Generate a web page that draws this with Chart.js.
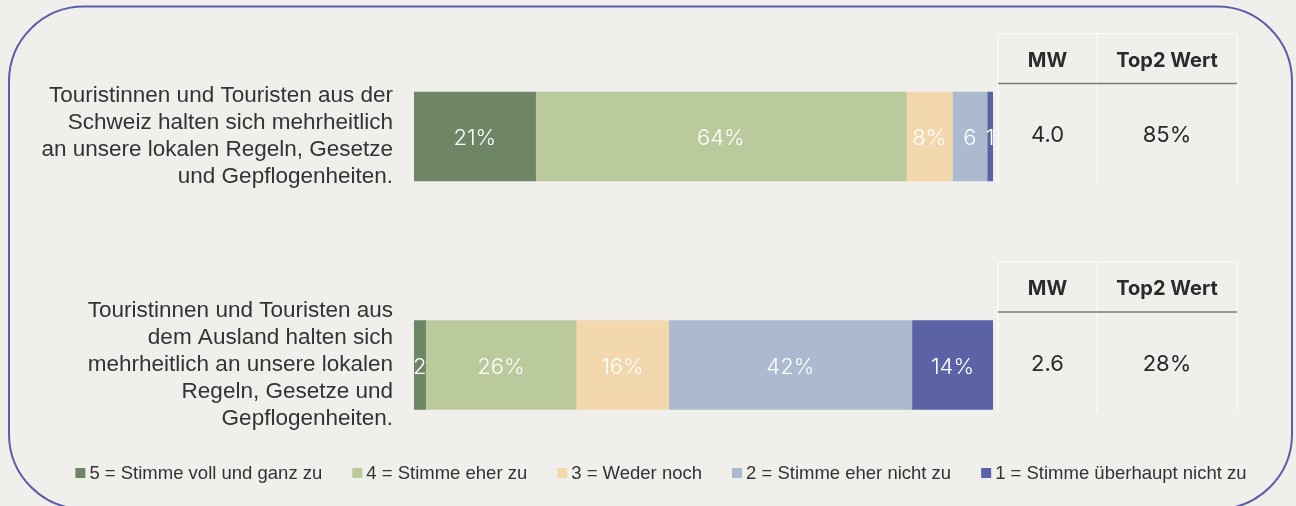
<!DOCTYPE html>
<html>
<head>
<meta charset="utf-8">
<script src="https://cdn.jsdelivr.net/npm/chart.js@4/dist/chart.umd.min.js"></script>
<style>
  html, body { margin: 0; padding: 0; background: #f0efeb; }
  canvas { display: block; }
</style>
</head>
<body>
<canvas id="chart" width="1296" height="506"></canvas>
<script>
// Statements (multi-line category labels)
const categories = [
  ["Touristinnen und Touristen aus der", "Schweiz halten sich mehrheitlich", "an unsere lokalen Regeln, Gesetze", "und Gepflogenheiten."],
  ["Touristinnen und Touristen aus", "dem Ausland halten sich", "mehrheitlich an unsere lokalen", "Regeln, Gesetze und", "Gepflogenheiten."]
];

// Answer scale
const seriesLabels = [
  "5 = Stimme voll und ganz zu",
  "4 = Stimme eher zu",
  "3 = Weder noch",
  "2 = Stimme eher nicht zu",
  "1 = Stimme überhaupt nicht zu"
];

// Shares in percent, one value per statement
const stimmeVoll      = [21, 2];
const stimmeEher      = [64, 26];
const wederNoch       = [8, 16];
const eherNicht       = [6, 42];
const ueberhauptNicht = [1, 14];

// Summary table beside each bar
const tableHeaders = ["MW", "Top2 Wert"];
const mittelwert   = ["4.0", "2.6"];
const top2Wert     = ["85%", "28%"];

const seriesColors = ["#6e8566", "#bbca9c", "#f3d7ad", "#abbacf", "#5b62a5"];
const seriesValues = [stimmeVoll, stimmeEher, wederNoch, eherNicht, ueberhauptNicht];

const SANS = '"Liberation Sans", Arial, sans-serif';
const GROTESK = 'Inter, "Open Sans", sans-serif';

// Background and rounded frame
const framePlugin = {
  id: 'frame',
  beforeDraw(chart) {
    const ctx = chart.ctx;
    ctx.save();
    ctx.fillStyle = '#f0efeb';
    ctx.fillRect(0, 0, chart.width, chart.height);
    const x0 = 9, y0 = 6.5, x1 = 1292, y1 = 509, r = 75;
    ctx.beginPath();
    ctx.moveTo(x0 + r, y0);
    ctx.lineTo(x1 - r, y0);
    ctx.arcTo(x1, y0, x1, y0 + r, r);
    ctx.lineTo(x1, y1 - r);
    ctx.arcTo(x1, y1, x1 - r, y1, r);
    ctx.lineTo(x0 + r, y1);
    ctx.arcTo(x0, y1, x0, y1 - r, r);
    ctx.lineTo(x0, y0 + r);
    ctx.arcTo(x0, y0, x0 + r, y0, r);
    ctx.closePath();
    ctx.lineWidth = 2;
    ctx.strokeStyle = '#5a5fa8';
    ctx.stroke();
    ctx.restore();
  }
};

// White value labels inside the segments, clipped to each segment
const segmentLabelPlugin = {
  id: 'segmentLabels',
  afterDatasetsDraw(chart) {
    const ctx = chart.ctx;
    ctx.save();
    ctx.font = '300 22px ' + GROTESK;
    ctx.fillStyle = '#ffffff';
    ctx.textAlign = 'center';
    ctx.textBaseline = 'middle';
    chart.data.datasets.forEach((ds, di) => {
      const meta = chart.getDatasetMeta(di);
      meta.data.forEach((bar, i) => {
        const v = ds.data[i];
        const left = Math.min(bar.base, bar.x);
        const right = Math.max(bar.base, bar.x);
        const w = right - left;
        let txt = v + '%';
        if (ctx.measureText(txt).width + 6 > w) txt = String(v);
        const cx = (left + right) / 2;
        ctx.save();
        ctx.beginPath();
        ctx.rect(left - 2, bar.y - bar.height / 2, w + 2, bar.height);
        ctx.clip();
        ctx.fillText(txt, cx, bar.y + 2);
        ctx.restore();
      });
    });
    ctx.restore();
  }
};

// MW / Top2 table next to each bar
const tablePlugin = {
  id: 'summaryTable',
  afterDraw(chart) {
    const ctx = chart.ctx;
    const yScale = chart.scales.y;
    const xl = 998, xm = 1097, xr = 1237;
    ctx.save();
    categories.forEach((_, i) => {
      const c = yScale.getPixelForValue(i);
      const top = c - 103, head = c - 53, bottom = c + 47;
      ctx.strokeStyle = '#fbfbf9';
      ctx.lineWidth = 1.2;
      ctx.beginPath();
      ctx.moveTo(xl, top); ctx.lineTo(xr, top);
      ctx.moveTo(xl, top); ctx.lineTo(xl, bottom);
      ctx.moveTo(xm, top); ctx.lineTo(xm, bottom);
      ctx.moveTo(xr, top); ctx.lineTo(xr, bottom);
      ctx.stroke();
      ctx.strokeStyle = '#7b7b73';
      ctx.lineWidth = 1.5;
      ctx.beginPath();
      ctx.moveTo(xl, head); ctx.lineTo(xr, head);
      ctx.stroke();

      ctx.fillStyle = '#2b2b2b';
      ctx.textAlign = 'center';
      ctx.textBaseline = 'middle';
      ctx.font = '700 20px ' + GROTESK;
      ctx.fillText(tableHeaders[0], (xl + xm) / 2, c - 76);
      ctx.fillText(tableHeaders[1], (xm + xr) / 2, c - 76);
      ctx.font = '400 22px ' + GROTESK;
      ctx.fillText(mittelwert[i], (xl + xm) / 2, c - 1);
      ctx.fillText(top2Wert[i], (xm + xr) / 2, c - 1);
    });
    ctx.restore();
  }
};

// Legend row along the bottom
const legendRowPlugin = {
  id: 'legendRow',
  afterDraw(chart) {
    const ctx = chart.ctx;
    ctx.save();
    ctx.font = '18.5px ' + SANS;
    ctx.textBaseline = 'middle';
    ctx.textAlign = 'left';
    const box = 10, gapText = 4, gapItem = 30, y = 473;
    const items = chart.data.datasets.map(ds => ({
      label: ds.label, color: ds.backgroundColor,
      w: box + gapText + ctx.measureText(ds.label).width
    }));
    const total = items.reduce((s, it) => s + it.w, 0) + gapItem * (items.length - 1);
    let x = 661 - total / 2;
    items.forEach(it => {
      ctx.fillStyle = it.color;
      ctx.fillRect(x, y - box / 2, box, box);
      ctx.fillStyle = '#333333';
      ctx.fillText(it.label, x + box + gapText, y + 1);
      x += it.w + gapItem;
    });
    ctx.restore();
  }
};

new Chart(document.getElementById('chart'), {
  type: 'bar',
  data: {
    labels: categories,
    datasets: seriesLabels.map((label, k) => ({
      label,
      data: seriesValues[k],
      backgroundColor: seriesColors[k],
      borderWidth: 0,
      barThickness: 89
    }))
  },
  options: {
    indexAxis: 'y',
    responsive: false,
    animation: false,
    devicePixelRatio: 1,
    layout: { padding: { left: 0, right: 303, top: 22.25, bottom: 26.75 } },
    plugins: {
      legend: { display: false },
      tooltip: { enabled: false }
    },
    scales: {
      x: { stacked: true, min: 0, max: 100, display: false },
      y: {
        stacked: true,
        grid: { display: false, drawTicks: false },
        border: { display: false },
        ticks: {
          color: '#333333',
          padding: 21,
          crossAlign: 'near',
          font: { family: SANS, size: 22.5, lineHeight: 27 / 22.5 }
        },
        afterFit(scale) {
          scale.width = 414;
          // the multi-line labels must not push the plot area inwards
          scale.paddingTop = 0;
          scale.paddingBottom = 0;
        }
      }
    }
  },
  plugins: [framePlugin, segmentLabelPlugin, tablePlugin, legendRowPlugin]
});
</script>
</body>
</html>
